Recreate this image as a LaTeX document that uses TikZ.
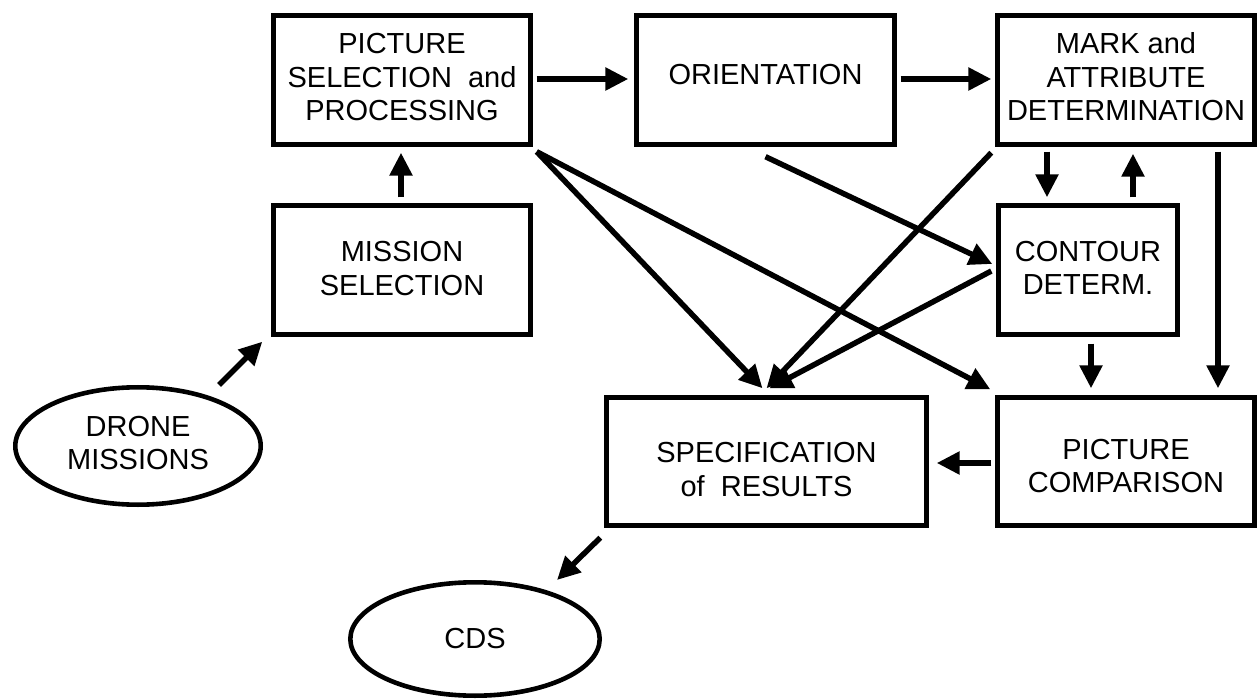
\documentclass[tikz,border=0pt]{standalone}
\usepackage{fontspec}
\setmainfont{Liberation Sans}
\usetikzlibrary{arrows.meta,calc,shapes.geometric}

\begin{document}
\begin{tikzpicture}[x=1pt,y=-1pt,
  box/.style={draw, line width=4.6pt, rectangle, inner sep=0pt, outer sep=0pt,
              minimum width=257.4pt, minimum height=129.4pt},
  oval/.style={draw, line width=4.6pt, ellipse, inner sep=0pt, outer sep=0pt},
  txt/.style={font=\fontsize{29}{33.5}\selectfont, align=center, inner sep=0pt},
  flow/.style={line width=5.5pt, -{Triangle[length=23pt,width=22pt]}}
]
\useasboundingbox[fill=white] (0,0) rectangle (1258,700);

% process boxes
\node[box, label={[txt,yshift=2.5pt]center:{PICTURE\\SELECTION\ \ and\\PROCESSING}}] (psp) at (402,80) {};
\node[box, label={[txt,yshift=1.5pt]center:{MISSION\\SELECTION}}] (ms) at (402,270) {};
\node[box, minimum width=258.4pt, label={[txt,yshift=5pt]center:{ORIENTATION}}] (ori) at (765.5,80) {};
\node[box, label={[txt,yshift=3pt]center:{MARK and\\ATTRIBUTE\\DETERMINATION}}] (mark) at (1126,80) {};
\node[box, minimum width=179.4pt, label={[txt,yshift=2pt]center:{CONTOUR\\DETERM.}}] (cont) at (1088,270) {};
\node[box, minimum width=320.4pt, minimum height=128.4pt, label={[txt,yshift=-8pt]center:{SPECIFICATION\\of\ \ RESULTS}}] (spec) at (766.5,461.5) {};
\node[box, minimum height=128.4pt, label={[txt,yshift=-4.5pt]center:{PICTURE\\COMPARISON}}] (pc) at (1126,461.5) {};

% input and output stores
\node[oval, minimum width=245.4pt, minimum height=117.4pt, label={[txt,yshift=3pt]center:{DRONE\\MISSIONS}}] (drone) at (138,446) {};
\node[oval, minimum width=249.4pt, minimum height=113.4pt, label={[txt]center:{CDS}}] (cds) at (475,639) {};

% straight flows
\draw[flow] ($(psp.east)+(6,-1)$) -- ($(ori.west)+(-8,-1)$);
\draw[flow] ($(ori.east)+(6,-1)$) -- ($(mark.west)+(-6,-1)$);
\draw[flow] ($(ms.north)+(-1,-8)$) -- ($(psp.south)+(-1,8)$);
\draw[flow] ($(drone.center)+(81,-61)$) -- ($(ms.south west)+(-11,7)$);
\draw[flow] ($(spec.south west)+(-6,12)$) -- ($(cds.center)+(82,-59)$);
\draw[flow] ($(pc.west)+(-6,1.5)$) -- ($(spec.east)+(10,1.5)$);
\draw[flow] ($(mark.south)+(-79,7)$) -- ($(cont.north)+(-41,-8)$);
\draw[flow] ($(cont.north)+(45,-8)$) -- ($(mark.south)+(7,9)$);
\draw[flow] ($(mark.south)+(92,7)$) -- ($(pc.north)+(92,-9)$);
\draw[flow] ($(cont.south)+(3,9)$) -- ($(pc.north)+(-35,-9)$);

% diagonal flows
\draw[flow] ($(psp.south east)+(6,7)$) -- ($(spec.north)+(-4,-9)$);
\draw[flow] ($(psp.south east)+(6,7)$) -- ($(pc.north west)+(-7,-8)$);
\draw[flow] ($(ori.south)+(0,12)$) -- ($(cont.west)+(-6,-6)$);
\draw[flow] ($(mark.south west)+(-6,8)$) -- ($(spec.north)+(0,-9)$);
\draw[flow] ($(cont.west)+(-7,1)$) -- ($(spec.north)+(3,-9)$);
\end{tikzpicture}
\end{document}
